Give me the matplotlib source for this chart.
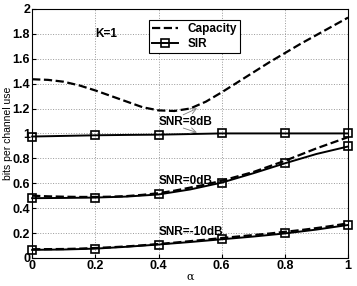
import matplotlib
matplotlib.use("Agg")
import matplotlib.pyplot as plt

plt.rcParams['font.family'] = ['Liberation Sans', 'DejaVu Sans']
plt.rcParams['font.weight'] = 'bold'

# alpha grid for the capacity curves
alpha_cap = [0.0, 0.05, 0.1, 0.15, 0.2, 0.25, 0.3, 0.35, 0.4, 0.45, 0.5, 0.55, 0.6, 0.65, 0.7, 0.75, 0.8, 0.85, 0.9, 0.95, 1.0]
cap_8db = [1.435, 1.43, 1.415, 1.385, 1.345, 1.30, 1.255, 1.21, 1.185, 1.18, 1.20, 1.255, 1.33, 1.41, 1.49, 1.57, 1.645, 1.72, 1.79, 1.86, 1.93]
cap_0db = [0.50, 0.495, 0.492, 0.49, 0.49, 0.492, 0.497, 0.507, 0.52, 0.54, 0.565, 0.59, 0.62, 0.655, 0.69, 0.735, 0.78, 0.83, 0.88, 0.925, 0.97]
cap_m10db = [0.07, 0.071, 0.072, 0.075, 0.08, 0.086, 0.093, 0.102, 0.112, 0.123, 0.135, 0.147, 0.16, 0.172, 0.184, 0.196, 0.21, 0.224, 0.24, 0.258, 0.278]

# SIR curves (markers at every other point)
alpha_sir = [0.0, 0.1, 0.2, 0.3, 0.4, 0.5, 0.6, 0.7, 0.8, 0.9, 1.0]
sir_8db = [0.975, 0.98, 0.985, 0.988, 0.99, 0.995, 1.0, 1.0, 1.0, 1.0, 1.0]
sir_0db = [0.48, 0.482, 0.485, 0.493, 0.51, 0.55, 0.605, 0.68, 0.76, 0.835, 0.895]
sir_m10db = [0.065, 0.068, 0.075, 0.09, 0.108, 0.128, 0.15, 0.172, 0.197, 0.228, 0.265]

fig, ax = plt.subplots(figsize=(3.57, 2.86), dpi=100)
fig.subplots_adjust(left=0.09, right=0.975, top=0.969, bottom=0.098)

sq = dict(marker='s', markevery=2, ms=5.5, mfc='none', mew=1.2, clip_on=False)
ax.plot(alpha_cap, cap_8db, 'k--', lw=1.6, label='Capacity')
ax.plot(alpha_sir, sir_8db, 'k-', lw=1.4, label='SIR', **sq)
ax.plot(alpha_cap, cap_0db, 'k--', lw=1.6)
ax.plot(alpha_sir, sir_0db, 'k-', lw=1.4, **sq)
ax.plot(alpha_cap, cap_m10db, 'k--', lw=1.6)
ax.plot(alpha_sir, sir_m10db, 'k-', lw=1.4, **sq)

ax.set_xlim(0, 1)
ax.set_ylim(0, 2)
ax.set_xticks([0, 0.2, 0.4, 0.6, 0.8, 1])
ax.set_xticklabels(['0', '0.2', '0.4', '0.6', '0.8', '1'])
ax.set_yticks([0, 0.2, 0.4, 0.6, 0.8, 1, 1.2, 1.4, 1.6, 1.8, 2])
ax.set_yticklabels(['0', '0.2', '0.4', '0.6', '0.8', '1', '1.2', '1.4', '1.6', '1.8', '2'])
ax.tick_params(direction='in', labelsize=9, length=3, pad=1.5)
ax.grid(True, linestyle=':', color='0.6', lw=0.7)

ax.set_xlabel('α', fontsize=8, fontweight='normal', family=['DejaVu Serif'], labelpad=0)
ax.set_ylabel('bits per channel use', fontsize=7.5)
ax.yaxis.set_label_coords(-0.062, 0.5)

ax.text(0.2, 1.8, 'K=1', fontsize=8.5, va='center')
ax.text(0.4, 1.09, 'SNR=8dB', fontsize=8.5, va='center')
ax.text(0.4, 0.62, 'SNR=0dB', fontsize=8.5, va='center')
ax.text(0.4, 0.21, 'SNR=-10dB', fontsize=8.5, va='center')
ax.annotate('', xy=(0.53, 1.21), xytext=(0.47, 1.14),
            arrowprops=dict(arrowstyle='->', color='0.5', lw=0.6))
ax.annotate('', xy=(0.53, 1.0), xytext=(0.47, 1.05),
            arrowprops=dict(arrowstyle='->', color='0.5', lw=0.6))

leg = ax.legend(loc='upper left', bbox_to_anchor=(0.35, 0.98), fontsize=8.5,
                handlelength=2.2, borderpad=0.3, labelspacing=0.2, fancybox=False,
                framealpha=1, edgecolor='k')
leg.get_frame().set_linewidth(0.8)

fig.savefig('out.png', dpi=100)
